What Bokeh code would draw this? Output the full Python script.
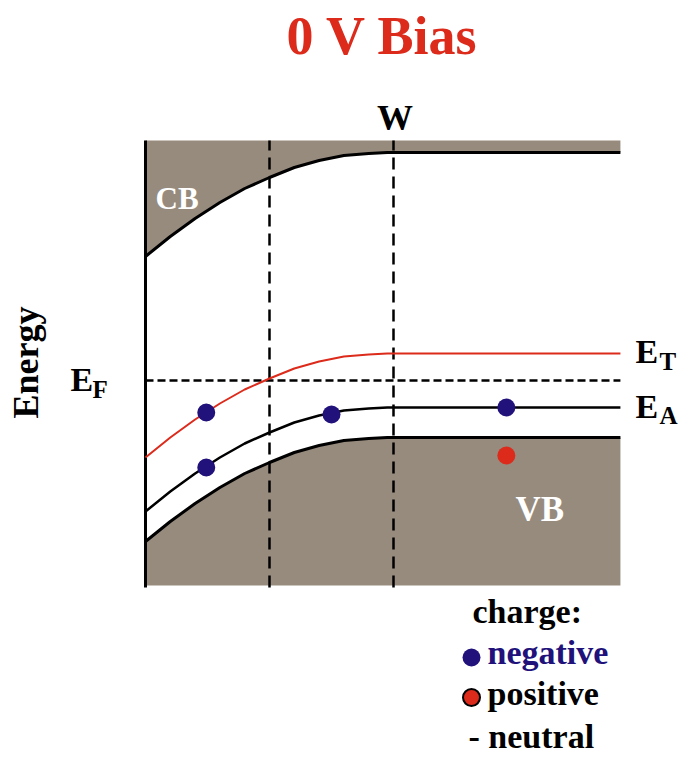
import math
from bokeh.plotting import figure
from bokeh.models import Range1d
from bokeh.core.properties import value
from bokeh.embed import file_html
from bokeh.resources import INLINE

# ---------------- data (depth in arbitrary units, energy in eV, E_F = 0) ----------------
depth = [0.0, 0.2, 0.4, 0.6, 0.8, 1.0, 1.2, 1.4, 1.6, 1.8, 1.95, 3.83]
cb_edge = [1.24, 1.44, 1.62, 1.78, 1.92, 2.03, 2.13, 2.20, 2.25, 2.27, 2.28, 2.28]
trap_level = [-0.77, -0.57, -0.39, -0.23, -0.09, 0.02, 0.12, 0.19, 0.24, 0.26, 0.27, 0.27]
acceptor_level = [-1.31, -1.11, -0.93, -0.77, -0.63, -0.52, -0.42, -0.35, -0.30, -0.28, -0.27, -0.27]
vb_edge = [-1.61, -1.41, -1.23, -1.07, -0.93, -0.82, -0.72, -0.65, -0.60, -0.58, -0.57, -0.57]
fermi_level = 0.0
band_top = 2.40
band_bottom = -2.05
guide_depths = [1.0, 2.0]          # second guide = depletion width W
neg_x = [0.49, 0.49, 1.50, 2.91]   # negative charges
neg_y = [-0.32, -0.87, -0.34, -0.27]
pos_x = [2.91]                     # positive charge
pos_y = [-0.75]
legend_labels = ["charge:", "negative", "positive", "- neutral"]

# ---------------- styling ----------------
FILL = "#978b7e"
RED = "#dc2a1b"
NAVY = "#21117a"
FONT = value("Liberation Serif")

W_PX, H_PX = 680, 761
PX_X, PX_Y = 124.0, 100.0  # pixels per data unit
x0 = -145.0 / PX_X
y1 = 380.0 / PX_Y

def X(px):  # reference pixel -> data
    return (px - 145.0) / PX_X

def Y(py):
    return (380.0 - py) / PX_Y

p = figure(width=W_PX, height=H_PX, output_backend="svg", toolbar_location=None,
           x_range=Range1d(x0, x0 + W_PX / PX_X), y_range=Range1d(y1 - H_PX / PX_Y, y1),
           x_axis_location=None, y_axis_location=None, min_border=0)
p.grid.visible = False
p.outline_line_color = None
p.background_fill_color = "white"
p.border_fill_color = "white"

n = len(depth)
# bands
p.varea(x=depth, y1=cb_edge, y2=[band_top] * n, fill_color=FILL)
p.varea(x=depth, y1=vb_edge, y2=[band_bottom] * n, fill_color=FILL)

# guides
p.segment(x0=guide_depths, y0=[band_bottom - 0.02] * 2, x1=guide_depths, y1=[band_top] * 2,
          line_color="black", line_width=2.5, line_dash="12 7")
p.segment(x0=[depth[0]], y0=[fermi_level], x1=[depth[-1]], y1=[fermi_level],
          line_color="black", line_width=2.5, line_dash="8 4")
# left axis line
p.segment(x0=[depth[0]], y0=[band_bottom - 0.02], x1=[depth[0]], y1=[band_top],
          line_color="black", line_width=3)

# levels
p.line(depth, cb_edge, line_color="black", line_width=3)
p.line(depth, vb_edge, line_color="black", line_width=3)
p.line(depth, acceptor_level, line_color="black", line_width=2.5)
p.line(depth, trap_level, line_color=RED, line_width=2)

# charges
p.scatter(neg_x, neg_y, size=18, fill_color=NAVY, line_color=None)
p.scatter(pos_x, pos_y, size=18, fill_color=RED, line_color=None)

SHIFT = 0.36  # baseline correction (fraction of font size)

def txt(px, py, s, size, color="black", align="left", angle=0.0):
    if angle == 0.0:
        py -= SHIFT * size
    else:
        px -= SHIFT * size
    p.text(x=[X(px)], y=[Y(py)], text=[s], text_font=FONT, text_font_style="bold",
           text_font_size=f"{size}px", text_color=color, text_align=align,
           text_baseline="alphabetic", angle=angle)

# title & labels
txt(382, 55, "0 V Bias", 54, RED, "center")
txt(394.5, 130, "W", 36, "black", "center")
txt(155, 209, "CB", 31, "white")
txt(515, 522, "VB", 35, "white")
txt(38, 362, "Energy", 36, "black", "center", math.pi / 2)
txt(70, 391, "E", 34)
txt(92, 398, "F", 25)
txt(635, 363, "E", 34)
txt(659, 370, "T", 25)
txt(635, 418, "E", 34)
txt(659, 424, "A", 25)

# legend
txt(472, 623, legend_labels[0], 34)
p.scatter([X(471)], [Y(657)], size=18, fill_color=NAVY, line_color=None)
txt(487, 664, legend_labels[1], 34, NAVY)
p.scatter([X(471)], [Y(697)], size=17, fill_color=RED, line_color="black", line_width=2)
txt(487, 705, legend_labels[2], 34)
txt(468, 748, legend_labels[3], 34)

open("out.html", "w").write(file_html(p, INLINE))
